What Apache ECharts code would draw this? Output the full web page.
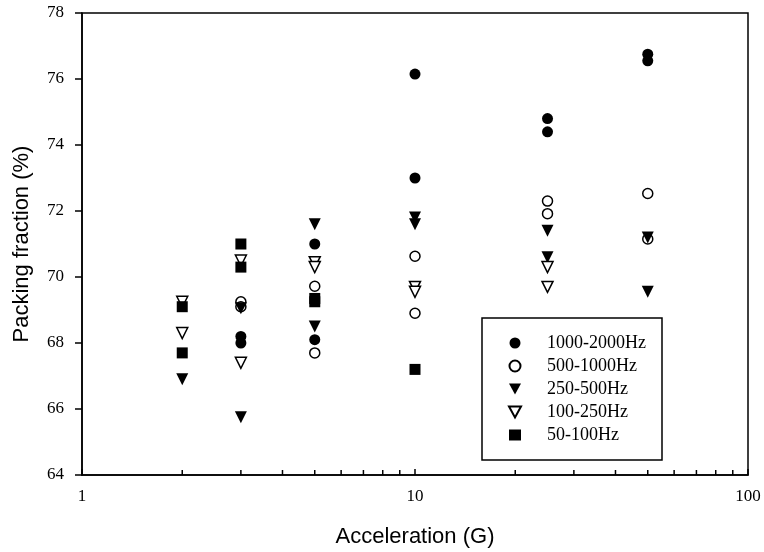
<!DOCTYPE html>
<html>
<head>
<meta charset="utf-8">
<script src="https://cdn.jsdelivr.net/npm/echarts@6/dist/echarts.min.js"></script>
<style>
  html, body { margin: 0; padding: 0; background: #fff; }
  #chart { width: 764px; height: 552px; }
</style>
</head>
<body>
<div id="chart"></div>
<script>
// packing fraction vs acceleration, [G, %]
var hz1000_2000 = [[3, 68.2], [3, 68.0], [5, 71.0], [5, 68.1], [10, 76.15], [10, 73.0], [25, 74.8], [25, 74.4], [50, 76.75], [50, 76.55]];
var hz500_1000 = [[3, 69.25], [3, 69.1], [5, 69.72], [5, 67.7], [10, 70.63], [10, 68.9], [25, 72.3], [25, 71.92], [50, 72.53], [50, 71.15]];
var hz250_500 = [[2, 66.9], [3, 69.05], [3, 65.75], [5, 71.6], [5, 68.5], [10, 71.8], [10, 71.6], [25, 71.4], [25, 70.6], [50, 71.2], [50, 69.55]];
var hz100_250 = [[2, 69.25], [2, 68.3], [3, 70.5], [3, 67.4], [5, 70.45], [5, 70.3], [10, 69.7], [10, 69.55], [25, 70.3], [25, 69.7]];
var hz50_100 = [[2, 69.1], [2, 67.7], [3, 71.0], [3, 70.3], [5, 69.35], [5, 69.25], [10, 67.2]];

var seriesNames = ['1000-2000Hz', '500-1000Hz', '250-500Hz', '100-250Hz', '50-100Hz'];
// minor ticks of the log axis
var minorTicks = [2, 3, 4, 5, 6, 7, 8, 9, 20, 30, 40, 50, 60, 70, 80, 90];

var chart = echarts.init(document.getElementById('chart'));

var filled = { color: '#000', opacity: 1 };
var hollow = { color: '#fff', borderColor: '#000', borderWidth: 1.5, opacity: 1 };
var downTri = 'path://M0,0 L10,0 L5,9 Z';

function pts(name, data, symbol, size, style, rotate) {
	return {
		name: name,
		type: 'scatter',
		data: data,
		symbol: symbol,
		symbolSize: size,
		symbolRotate: rotate || 0,
		itemStyle: style,
		emphasis: { disabled: true },
		z: 3
	};
}

var option = {
	animation: false,
	backgroundColor: '#fff',
	grid: {
		left: 82, right: 16, top: 13, bottom: 77,
		outerBoundsMode: 'none',
		containLabel: false,
		show: true, borderColor: '#000', borderWidth: 1.5
	},
	legend: {
		data: [
			{ name: seriesNames[0], icon: 'circle' },
			{ name: seriesNames[1], icon: 'circle' },
			{ name: seriesNames[2], icon: downTri },
			{ name: seriesNames[3], icon: downTri },
			{ name: seriesNames[4], icon: 'rect' }
		],
		orient: 'vertical',
		left: 503, top: 329,
		itemWidth: 12, itemHeight: 11,
		itemGap: 5,
		selectedMode: false,
		textStyle: { fontFamily: 'Liberation Serif', fontSize: 18, color: '#000', padding: [0, 0, 0, 21] }
	},
	graphic: [{
		type: 'rect',
		shape: { x: 482, y: 318, width: 180, height: 142 },
		style: { fill: 'none', stroke: '#000', lineWidth: 1.5 },
		z: 10
	}],
	xAxis: {
		type: 'log', logBase: 10, min: 1, max: 100,
		name: 'Acceleration (G)', nameLocation: 'middle', nameGap: 51,
		nameTextStyle: { fontFamily: 'Liberation Sans', fontSize: 22, color: '#000' },
		axisLine: { lineStyle: { color: '#000', width: 1.5 } },
		axisTick: { inside: true, length: 6, lineStyle: { color: '#000', width: 1.5 } },
		axisLabel: { fontFamily: 'Liberation Serif', fontSize: 17, color: '#000', margin: 13 },
		splitLine: { show: false }
	},
	yAxis: {
		type: 'value', min: 64, max: 78, interval: 2,
		name: 'Packing fraction (%)', nameLocation: 'middle', nameGap: 49,
		nameTextStyle: { fontFamily: 'Liberation Sans', fontSize: 22, color: '#000' },
		axisLine: { lineStyle: { color: '#000', width: 1.5 } },
		axisTick: { length: 7, lineStyle: { color: '#000', width: 1.5 } },
		axisLabel: { fontFamily: 'Liberation Serif', fontSize: 17, color: '#000', margin: 18 },
		splitLine: { show: false }
	},
	series: [
		pts(seriesNames[0], hz1000_2000, 'circle', 11, filled),
		pts(seriesNames[1], hz500_1000, 'circle', 10, hollow),
		pts(seriesNames[2], hz250_500, 'triangle', 12, filled, 180),
		pts(seriesNames[3], hz100_250, 'triangle', 11, hollow, 180),
		pts(seriesNames[4], hz50_100, 'rect', 11, filled),
		{
			type: 'scatter',
			data: minorTicks.map(function (v) { return [v, 64]; }),
			symbol: 'rect',
			symbolSize: [1.5, 5],
			symbolOffset: [0, -2.5],
			itemStyle: { color: '#000', opacity: 1 },
			silent: true,
			clip: false,
			z: 4
		}
	]
};
chart.setOption(option);
</script>
</body>
</html>
